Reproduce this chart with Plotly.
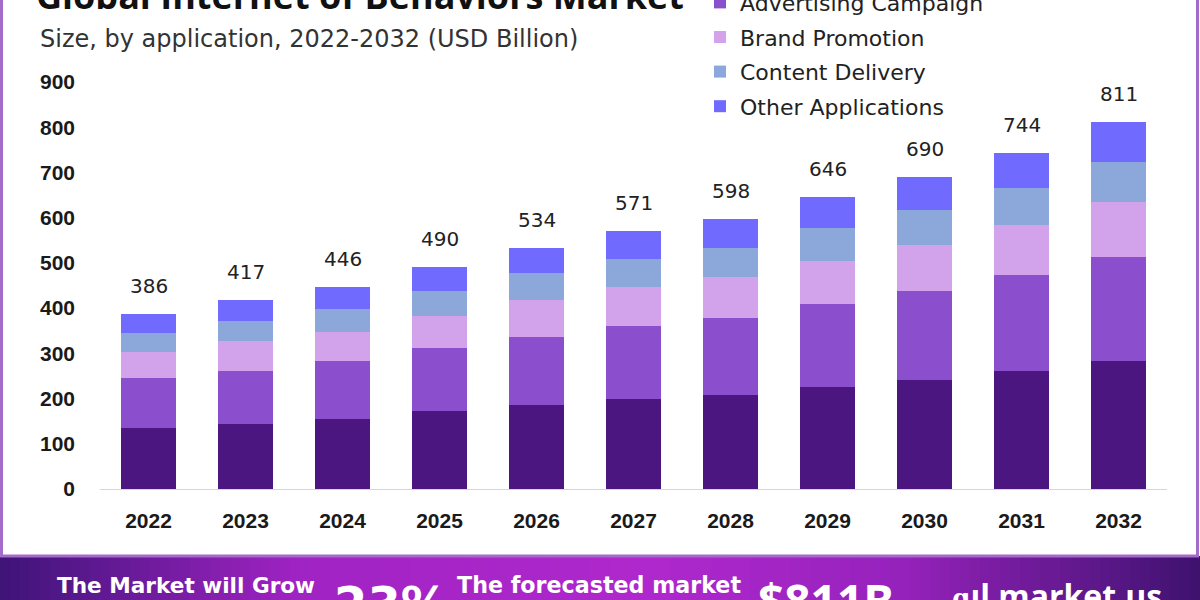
import plotly.graph_objects as go

years = ["2022", "2023", "2024", "2025", "2026", "2027", "2028", "2029", "2030", "2031", "2032"]
series_names = ["Customer Profiling", "Advertising Campaign", "Brand Promotion", "Content Delivery", "Other Applications"]
customer_profiling = [134, 144, 155, 172, 186, 199, 208, 225, 242, 261, 282]
advertising_campaign = [112, 118, 127, 139, 151, 162, 170, 184, 195, 212, 231]
brand_promotion = [56, 65, 65, 71, 80, 85, 90, 96, 102, 111, 122]
content_delivery = [44, 45, 51, 55, 60, 63, 65, 72, 78, 81, 89]
other_applications = [40, 45, 48, 53, 57, 62, 65, 69, 73, 79, 87]
totals = [386, 417, 446, 490, 534, 571, 598, 646, 690, 744, 811]
y_ticks = [0, 100, 200, 300, 400, 500, 600, 700, 800, 900]

colors = ["#4B1680", "#8B4FCD", "#D2A3EA", "#8CA7DA", "#706BFE"]
values = [customer_profiling, advertising_campaign, brand_promotion, content_delivery, other_applications]

W, H = 1200, 600
L, R, T, B = 100, 33, 82, 111
PW, PH = W - L - R, H - T - B


def px(xp):
    return (xp - L) / PW


def py(yp):
    return (H - B - yp) / PH


fig = go.Figure()
for i, (name, vals) in enumerate(zip(series_names, values)):
    fig.add_trace(go.Bar(
        x=years, y=vals, name=name, marker=dict(color=colors[i], line=dict(width=0)),
        legendgroup=f"g{i}", hoverinfo="skip",
    ))

annotations = []
for idx, tot in enumerate(totals):
    annotations.append(dict(
        x=idx, y=tot, xref="x", yref="y", text=str(tot), showarrow=False,
        yanchor="middle", yshift=28,
        font=dict(family="DejaVu Sans", size=20, color="#222222"),
    ))

# Title (cut off at top) and subtitle
annotations.append(dict(
    x=px(34), y=py(-4), xref="paper", yref="paper", xanchor="left", yanchor="middle",
    text="<b>Global Internet of Behaviors Market</b>", showarrow=False,
    font=dict(family="Open Sans", size=36, color="#111111"),
))
annotations.append(dict(
    x=px(38), y=py(39), xref="paper", yref="paper", xanchor="left", yanchor="middle",
    text="Size, by application, 2022-2032 (USD Billion)", showarrow=False,
    font=dict(family="DejaVu Sans", size=24, color="#333333"),
))

# Banner texts
banner_font = dict(color="#FFFFFF")
annotations += [
    dict(x=px(55), y=py(585), xref="paper", yref="paper", xanchor="left", yanchor="middle",
         text="<b>The Market will Grow</b>", showarrow=False,
         font=dict(family="DejaVu Sans", size=21.6, **banner_font)),
    dict(x=px(332), y=py(604), xref="paper", yref="paper", xanchor="left", yanchor="middle",
         text="<b>23%</b>", showarrow=False, font=dict(family="DejaVu Sans", size=48, **banner_font)),
    dict(x=px(455), y=py(585), xref="paper", yref="paper", xanchor="left", yanchor="middle",
         text="<b>The forecasted market</b>", showarrow=False,
         font=dict(family="DejaVu Sans", size=22.2, **banner_font)),
    dict(x=px(756), y=py(600), xref="paper", yref="paper", xanchor="left", yanchor="middle",
         text="<b>$811B</b>", showarrow=False, font=dict(family="Open Sans", size=46, **banner_font)),
    dict(x=px(950), y=py(595), xref="paper", yref="paper", xanchor="left", yanchor="middle",
         text="<b>ɑıl market.us</b>", showarrow=False, font=dict(family="Open Sans", size=32, **banner_font)),
]

shapes = []
# gradient banner
stops = [(0, (62, 20, 120)), (300, (160, 35, 195)), (650, (175, 40, 205)), (900, (150, 34, 188)), (1200, (62, 18, 110))]
step = 10
for xs in range(0, W, step):
    xc = xs + step / 2
    for (a, ca), (b, cb) in zip(stops[:-1], stops[1:]):
        if a <= xc <= b:
            t = (xc - a) / (b - a)
            c = tuple(int(round(ca[k] + (cb[k] - ca[k]) * t)) for k in range(3))
            break
    shapes.append(dict(type="rect", xref="paper", yref="paper",
                       x0=px(xs), x1=px(xs + step + 0.5), y0=py(600), y1=py(556),
                       fillcolor=f"rgb{c}", line=dict(width=0), layer="below"))
# purple frame
shapes.append(dict(type="rect", xref="paper", yref="paper",
                   x0=px(1.5), x1=px(1197.5), y0=py(556), y1=py(-10),
                   fillcolor="rgba(0,0,0,0)", line=dict(color="#A46BC8", width=3), layer="below"))

fig.update_layout(
    width=W, height=H,
    margin=dict(l=L, r=R, t=T, b=B, autoexpand=False),
    paper_bgcolor="white", plot_bgcolor="white",
    barmode="stack", bargap=0.443,
    showlegend=True,
    legend=dict(
        x=px(700), y=py(-53), xanchor="left", yanchor="top",
        traceorder="grouped", tracegroupgap=3,
        font=dict(family="DejaVu Sans", size=22, color="#222222"),
        bgcolor="rgba(0,0,0,0)",
    ),
    xaxis=dict(
        type="category", showgrid=False, showline=True, linecolor="#D6D6D6", linewidth=1,
        ticks="", ticklabelstandoff=13,
        tickfont=dict(family="Liberation Sans", size=21, color="#1A1A1A", weight="bold"),
        range=[-0.5, 10.5], fixedrange=True,
    ),
    yaxis=dict(
        range=[0, 900], tickvals=y_ticks, showgrid=False, zeroline=False, showline=False,
        ticks="", ticklabelstandoff=24,
        tickfont=dict(family="Liberation Sans", size=21, color="#1A1A1A", weight="bold"),
        fixedrange=True,
    ),
    annotations=annotations,
    shapes=shapes,
)

fig.write_html("out.html")
